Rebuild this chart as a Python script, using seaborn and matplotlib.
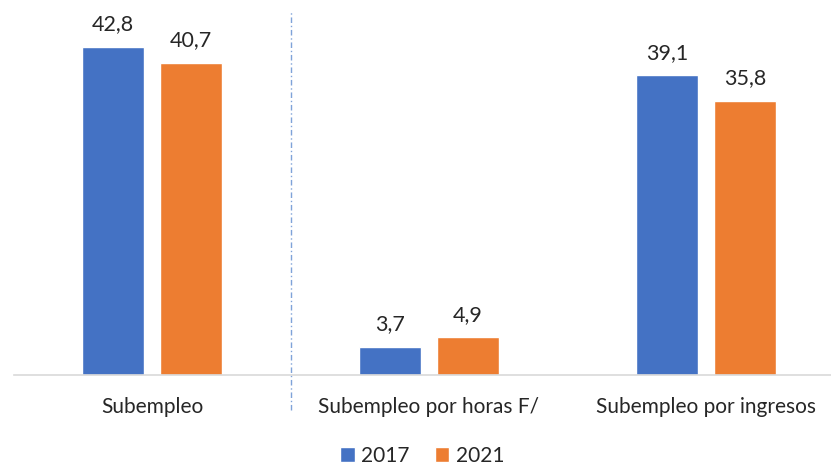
import pandas as pd
import matplotlib.pyplot as plt
import seaborn as sns

# Data
categories = ["Subempleo", "Subempleo por horas F/", "Subempleo por ingresos"]
years = ["2017", "2021"]
values_2017 = [42.8, 3.7, 39.1]
values_2021 = [40.7, 4.9, 35.8]

df = pd.DataFrame({
    "categoria": categories * 2,
    "anio": [years[0]] * 3 + [years[1]] * 3,
    "valor": values_2017 + values_2021,
})

sns.set_style("white")
plt.rcParams['font.family'] = ['Lato', 'DejaVu Sans']

fig = plt.figure(figsize=(8.31, 4.65), dpi=100)
ax = fig.add_axes([13.5 / 831, 90 / 465, 1.0, 375 / 465])

sns.barplot(data=df, x="categoria", y="valor", hue="anio",
            palette=["#4472C4", "#ED7D31"], saturation=1, width=0.56, gap=0.2,
            ax=ax, legend=True)

# Value labels
for cont in ax.containers:
    ax.bar_label(cont, labels=[f"{v:.1f}".replace(".", ",") for v in cont.datavalues],
                 padding=9, fontsize=15.5, color="#262626")

ax.set_xlim(-0.5, 2.5)
ax.set_ylim(0, 375 / 7.664)
ax.set_yticks([])
ax.set_xlabel("")
ax.set_ylabel("")
ax.tick_params(axis="x", length=0, pad=16, labelsize=15, colors="#262626")
for s in ["top", "right", "left"]:
    ax.spines[s].set_visible(False)
ax.spines["bottom"].set_color("#d9d9d9")
ax.spines["bottom"].set_linewidth(1.2)

# Separator line
ax.axvline(0.5, ymin=-0.093, ymax=0.968, color="#7fa3d9", linestyle=(0, (4, 2, 1, 2)),
           linewidth=1.0, clip_on=False)

ax.legend(loc="center", bbox_to_anchor=(0.5 - 13.5 / 831 / 2, -0.215), ncol=2, frameon=False,
          fontsize=15, handlelength=0.7, handleheight=0.7, handletextpad=0.3,
          columnspacing=1.2, labelcolor="#262626")

plt.savefig("out.png", dpi=100)
